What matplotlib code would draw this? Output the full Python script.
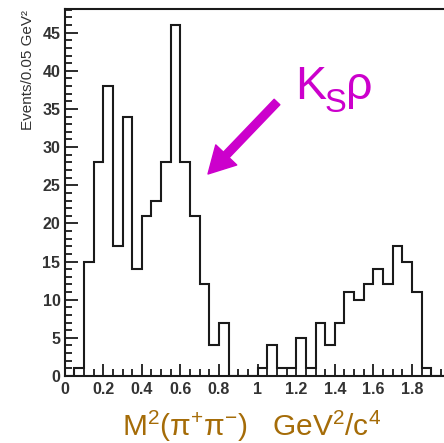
import numpy as np
import matplotlib
matplotlib.use("Agg")
import matplotlib.pyplot as plt
from matplotlib.ticker import MultipleLocator

# histogram contents, 0.05 GeV^2 bins from 0 to 2
bin_edges = np.round(np.arange(0, 2.0001, 0.05), 2)
counts = [0, 1, 15, 28, 38, 17, 34, 14, 21, 23,
          28, 46, 28, 21, 12, 4, 7, 0, 0, 0,
          1, 4, 1, 1, 5, 1, 7, 4, 7, 11,
          10, 12, 14, 12, 17, 15, 11, 1, 0, 0]
x_ticks = [0, 0.2, 0.4, 0.6, 0.8, 1, 1.2, 1.4, 1.6, 1.8]
x_tick_labels = ["0", "0.2", "0.4", "0.6", "0.8", "1", "1.2", "1.4", "1.6", "1.8"]
y_ticks = [0, 5, 10, 15, 20, 25, 30, 35, 40, 45]

W, H = 444, 443
plt.rcParams['font.family'] = ['Liberation Sans', 'DejaVu Sans']
plt.rcParams['mathtext.fontset'] = 'custom'
plt.rcParams['mathtext.rm'] = 'Liberation Sans'
plt.rcParams['mathtext.it'] = 'Liberation Sans'
plt.rcParams['mathtext.bf'] = 'Liberation Sans:bold'

fig = plt.figure(figsize=(W / 100, H / 100), dpi=100)
# axes in pixels: left 64.6, bottom 376 (from top), top 9; right edge runs off the figure
ax = fig.add_axes([64.6 / W, (H - 376) / H, 386 / W, 367 / H])

ax.stairs(counts, bin_edges, color='#1a1a1a', linewidth=1.5, baseline=0)
ax.set_xlim(0, 2)
ax.set_ylim(0, 48.1)

ax.set_xticks(x_ticks)
ax.set_xticklabels(x_tick_labels)
ax.set_yticks(y_ticks)
ax.xaxis.set_minor_locator(MultipleLocator(0.05))
ax.yaxis.set_minor_locator(MultipleLocator(1))
ax.tick_params(which='both', direction='in', top=False, right=False,
               width=1.3, color='#1a1a1a')
ax.tick_params(which='major', length=9)
ax.tick_params(which='minor', length=5)
ax.tick_params(axis='x', which='major', pad=4)
ax.tick_params(axis='y', which='major', pad=3)
for lab in ax.get_xticklabels() + ax.get_yticklabels():
    lab.set_fontsize(11.5)
    lab.set_fontweight('bold')
    lab.set_color('#333333')
for s in ax.spines.values():
    s.set_linewidth(1.5)
    s.set_color('#1a1a1a')

# axis titles
fig.text(28 / W, (H - 10) / H, "Events/0.05 GeV²", rotation=90, ha='center', va='top',
         fontsize=11, color='#333333')
fig.text(122 / W, 6.5 / H, r"$\mathregular{M^{2}(\pi^{+}\pi^{-})\ \ \ GeV^{2}/c^{4}}$",
         ha='left', va='baseline', fontsize=21.5, color='#a56c08')

# K_S rho annotation
mag = '#cc00cc'
fig.text(295 / W, (H - 99) / H, "K", ha='left', va='baseline', fontsize=33.5, color=mag)
fig.text(325 / W, (H - 112) / H, "S", ha='left', va='baseline', fontsize=23.5, color=mag)
fig.text(346 / W, (H - 99) / H, "ρ", ha='left', va='baseline', fontsize=33.5, color=mag)
ax.annotate('', xy=(208, H - 174), xytext=(277, H - 102), xycoords='figure pixels',
            textcoords='figure pixels',
            arrowprops=dict(arrowstyle='simple,head_length=1.0,head_width=1.1,tail_width=0.3',
                            color=mag, mutation_scale=19, shrinkA=0, shrinkB=0))

fig.savefig("out.png", dpi=100)
